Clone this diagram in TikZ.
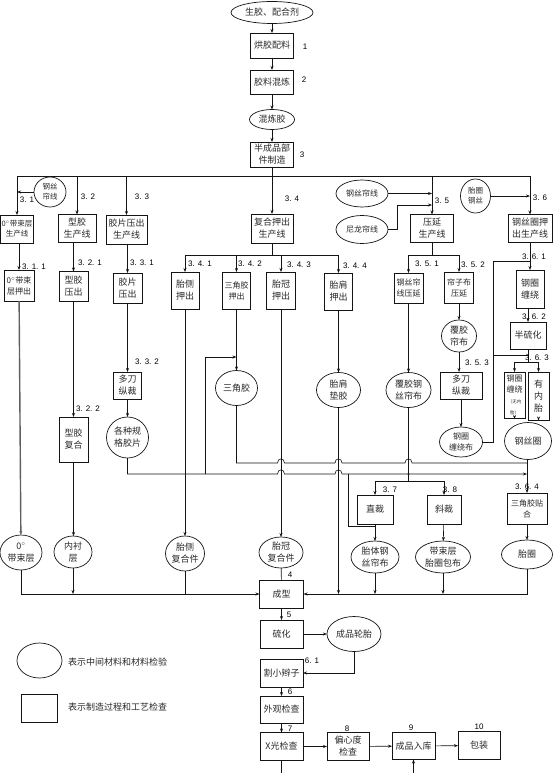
\documentclass[tikz,border=0pt]{standalone}
\usepackage{fontspec}
\setsansfont{Liberation Sans}
\newfontfamily\cjk{Noto Sans CJK SC}
\usetikzlibrary{arrows.meta,shapes.geometric,positioning}
\definecolor{lineclr}{RGB}{20,20,20}
\definecolor{txtclr}{RGB}{40,40,40}
\definecolor{thickclr}{RGB}{95,95,95}

\begin{document}
\begin{tikzpicture}[x=1pt,y=-1pt,
    every node/.style={inner sep=0pt, outer sep=0pt, text=txtclr},
    proc/.style 2 args={draw=lineclr, line width=0.7pt, minimum width=#1pt, minimum height=#2pt, align=center, font=\cjk\fontsize{9}{12}\selectfont},
    mat/.style 2 args={ellipse, draw=lineclr, line width=0.7pt, minimum width=#1pt, minimum height=#2pt, align=center, font=\cjk\fontsize{9}{12}\selectfont},
    smalltext/.style={font=\cjk\fontsize{8}{11}\selectfont},
    tinytext/.style={font=\cjk\fontsize{7.5}{10}\selectfont},
    num/.style={font=\sffamily\fontsize{8}{9}\selectfont, text=black},
    link/.style={draw=lineclr, line width=0.6pt},
    arr/.style={link, -{Stealth[length=4pt,width=3pt]}}]
    \useasboundingbox (0,0) rectangle (552,773);

    % Main column: raw material to semi-finished parts
    \node[mat={82}{22}] (raw) at (272,12.5) {生胶、配合剂};
    \node[proc={43}{25}] (s1) at (272,45.5) {烘胶配料};
    \node[proc={43}{24}] (s2) at (272,82) {胶料混炼};
    \node[mat={45}{20}] (mix) at (272,119.5) {混炼胶};
    \node[proc={43}{25}] (s3) at (272,154.5) {半成品部\\件制造};
    \node[num] (t1) at (305,47) {1};
    \node[num] (t2) at (304,80) {2};
    \node[num] (t3) at (302,155) {3};
    \draw[arr] (raw) -- (s1);
    \draw[arr] (s1) -- (s2);
    \draw[arr] (s2) -- (mix);
    \draw[arr] (mix) -- (s3);

    % Production lines
    \node[proc={33}{28}, tinytext] (l31) at (17,229) {0$^\circ$带束层\\生产线};
    \node[proc={38}{28}] (l32) at (77,228.5) {型胶\\生产线};
    \node[proc={41}{29}] (l33) at (126.5,229.5) {胶片压出\\生产线};
    \node[proc={42}{29}] (l34) at (272,228.5) {复合押出\\生产线};
    \node[proc={43}{28}] (l35) at (432,228.5) {压延\\生产线};
    \node[proc={44}{28}] (l36) at (530,228.5) {钢丝圈押\\出生产线};
    \coordinate (busW) at (17,176);
    \coordinate (busE) at (530,176);
    \draw[link] (busW) -- (busE);
    \foreach \n in {l31,l32,l33,l35,l36}
      \draw[arr] (\n.north |- busW) -- (\n.north);
    \draw[arr] (s3) -- (l34);
    \node[num] (t31) at (27,200) {3. 1};
    \node[num] (t32) at (88,197) {3. 2};
    \node[num] (t33) at (142,197) {3. 3};
    \node[num] (t34) at (292,199) {3. 4};
    \node[num] (t35) at (442,201) {3. 5};
    \node[num] (t36) at (540,198) {3. 6};

    % Incoming wire and cord
    \node[mat={32}{30}, tinytext] (c31) at (50,192) {钢丝\\帘线};
    \node[mat={52}{27}, smalltext] (e35a) at (362,193.5) {钢丝帘线};
    \node[mat={52}{28}, smalltext] (e35b) at (362,229.5) {尼龙帘线};
    \node[mat={30}{34}, tinytext] (c36) at (475.5,196) {胎圈\\钢丝};
    \draw[arr] (c31.west) -- (c31.west -| l31.north);
    \draw[arr] (e35a.east) -- (e35a.east -| l35.north);
    \coordinate (nyl) at (397,205);
    \draw[arr] (e35b.east) -| (nyl) -- (nyl -| l35.north);
    \draw[arr] (c36.east) -- (c36.east -| l36.north);

    % Second row
    \node[proc={30}{31}, smalltext] (b311) at (19,285.5) {0$^\circ$带束\\层押出};
    \node[proc={29}{30}] (b321) at (73.5,286.5) {型胶\\压出};
    \node[proc={29}{30}] (b331) at (127.5,288) {胶片\\压出};
    \node[proc={28}{37}] (b341) at (185,290.5) {胎侧\\押出};
    \node[proc={28}{37}, smalltext] (b342) at (236.5,290.5) {三角胶\\押出};
    \node[proc={29}{37}] (b343) at (281,290.5) {胎冠\\押出};
    \node[proc={28}{37}] (b344) at (338.5,291.5) {胎肩\\押出};
    \node[proc={29}{30}, smalltext] (b351) at (408.5,288) {钢丝帘\\线压延};
    \node[proc={29}{31}, smalltext] (b352) at (459,287.5) {帘子布\\压延};
    \node[proc={28}{38}] (b361) at (530,289) {钢圈\\缠绕};
    \draw[arr] (b311.north |- l31.south) -- (b311.north);
    \draw[arr] (b321.north |- l32.south) -- (b321.north);
    \draw[arr] (b331.north |- l33.south) -- (b331.north);
    \coordinate (sb34) at (272,255);
    \draw[link] (l34.south) -- (sb34);
    \draw[link] (b341.north |- sb34) -- (b344.north |- sb34);
    \foreach \n in {b341,b342,b343,b344}
      \draw[arr] (\n.north |- sb34) -- (\n.north);
    \coordinate (sb35) at (432,255);
    \draw[link] (l35.south) -- (sb35);
    \draw[link] (b351.north |- sb35) -- (b352.north |- sb35);
    \foreach \n in {b351,b352}
      \draw[arr] (\n.north |- sb35) -- (\n.north);
    \draw[arr] (b361.north |- l36.south) -- (b361.north);
    \node[num] (t311) at (34,267) {3. 1. 1};
    \node[num] (t321) at (90,263) {3. 2. 1};
    \node[num] (t331) at (142,263) {3. 3. 1};
    \node[num] (t341) at (200,264) {3. 4. 1};
    \node[num] (t342) at (250,264) {3. 4. 2};
    \node[num] (t343) at (299,265) {3. 4. 3};
    \node[num] (t344) at (355,266) {3. 4. 4};
    \node[num] (t351) at (427,264) {3. 5. 1};
    \node[num] (t352) at (473,265) {3. 5. 2};
    \node[num] (t361) at (534,257) {3. 6. 1};

    % Middle part
    \node[proc={29}{45}] (b322) at (73.5,439.5) {型胶\\复合};
    \node[proc={28}{27}] (b332) at (127.5,385.5) {多刀\\纵裁};
    \node[mat={42}{41}] (e332) at (127.5,437.5) {各种规\\格胶片};
    \node[mat={42}{35}] (e342) at (236.5,388) {三角胶};
    \node[mat={44}{35}] (e344) at (338.5,390) {胎肩\\垫胶};
    \node[mat={45}{35}] (e351) at (408.5,390) {覆胶钢\\丝帘布};
    \node[mat={35}{32}] (e352) at (459,336) {覆胶\\帘布};
    \node[proc={42}{27}] (b353) at (461,385.5) {多刀\\纵裁};
    \node[mat={43}{30}, smalltext] (e353) at (461,442) {钢圈\\缠绕布};
    \node[proc={36}{27}] (b362) at (528,335.5) {半硫化};
    \node[proc={21}{46}, smalltext] (b363a) at (514.5,395) {钢圈\\缠绕\\{\fontsize{4.5}{5.5}\selectfont（无内}\\{\fontsize{4.5}{5.5}\selectfont 胎）}};
    \node[proc={21}{48}] (b363b) at (538.5,396) {有\\内\\胎};
    \node[mat={47}{37}] (e363) at (528,441) {钢丝圈};
    \draw[arr] (b322.north |- b321.south) -- (b322.north);
    \draw[arr] (b332.north |- b331.south) -- (b332.north);
    \draw[arr] (b332) -- (e332);
    \draw[arr] (b342) -- (e342);
    \draw[arr] (b344) -- (e344);
    \draw[arr] (b351) -- (e351);
    \draw[arr] (b352) -- (e352);
    \draw[arr] (e352.south) -- (e352.south |- b353.north);
    \draw[arr] (b353) -- (e353);
    \draw[arr] (b362.north |- b361.south) -- (b362.north);
    \coordinate (sp363) at (528,362);
    \draw[link] (b362.south) -- (sp363);
    \draw[link] (b363a.north |- sp363) -- (b363b.north |- sp363);
    \foreach \n in {b363a,b363b}
      \draw[arr] (\n.north |- sp363) -- (\n.north);
    \draw[arr, shorten >=3.4pt] (b363a.south) -- (b363a.south |- e363.north);
    \draw[arr, shorten >=2pt] (b363b.south) -- (b363b.south |- e363.north);
    \coordinate (wr1) at (493,261);
    \coordinate (wr2) at (493,355);
    \draw[link] (e353.east) -| (wr1) -- (wr1 -| b361.north);
    \draw[link] (wr2) -- (wr2 -| b362.south);
    \node[num] (t332) at (147,362) {3. 3. 2};
    \node[num] (t322) at (88,409) {3. 2. 2};
    \node[num] (t353) at (477,363) {3. 5. 3};
    \node[num] (t362) at (534,317) {3. 6. 2};
    \node[num] (t363) at (537,358) {3. 6. 3};

    % Cutting and bead apex
    \node[proc={36}{29}] (b37) at (375,509.5) {直裁};
    \node[proc={34}{29}] (b38) at (444,509.5) {斜裁};
    \node[proc={40}{31}, smalltext] (b364) at (527,508.5) {三角胶贴\\合};
    \coordinate (sp37) at (408.5,481);
    \draw[link] (e351.south) -- (sp37);
    \draw[link] (b37.north |- sp37) -- (b38.north |- sp37);
    \foreach \n in {b37,b38}
      \draw[arr] (\n.north |- sp37) -- (\n.north);
    \draw[arr] (b364.north |- e363.south) -- (b364.north);
    \node[num] (t37) at (390,490) {3. 7};
    \node[num] (t38) at (450,490) {3. 8};
    \node[num] (t364) at (527,487) {3. 6. 4};

    % Crossing lines with hops
    \coordinate (jA) at (527,463);
    \coordinate (jB) at (527,474);
    \draw[link] (e342.south) |- (277.5,463) .. controls (277.5,457.5) and (284.5,457.5) .. (284.5,463)
      -- (335,463) .. controls (335,457.5) and (342,457.5) .. (342,463)
      -- (405,463) .. controls (405,457.5) and (412,457.5) .. (412,463) -- (jA);
    \draw[arr] (e332.south) |- (277.5,474) .. controls (277.5,468.5) and (284.5,468.5) .. (284.5,474)
      -- (335,474) .. controls (335,468.5) and (342,468.5) .. (342,474) -- (jB);
    \fill[lineclr] (408.5,474) circle (1.2pt);
    \coordinate (br1) at (205,474);
    \coordinate (br1b) at (205,357);
    \draw[arr] (br1) -- (br1b) -- (br1b -| b342.south);
    \coordinate (br2) at (348,474);
    \coordinate (br2b) at (348,526);
    \draw[link] (br2) -- (br2b) -- (br2b -| b37.south);

    % Components for building
    \node[mat={42}{35}] (e31) at (21,552.5) {0$^\circ$\\带束层};
    \node[mat={38}{32}] (e32) at (73,552) {内衬\\层};
    \node[mat={39}{35}] (e341) at (185,553.5) {胎侧\\复合件};
    \node[mat={44}{31}] (e343) at (281,552.5) {胎冠\\复合件};
    \node[mat={48}{32}] (e37) at (375,557) {胎体钢\\丝帘布};
    \node[mat={55}{32}] (e38) at (443,557) {带束层\\胎圈包布};
    \node[mat={51}{29}] (e364) at (527,554.5) {胎圈};
    \node[proc={44}{28}] (bx4) at (281.5,594) {成型};
    \draw[arr, line width=1.4pt, draw=thickclr] (b311) -- (e31);
    \draw[arr] (b322.south) -- (b322.south |- e32.north);
    \draw[arr] (b341) -- (e341);
    \draw[arr] (b343) -- (e343);
    \draw[arr] (b37) -- (e37);
    \draw[arr] (b38) -- (e38);
    \draw[arr] (b364) -- (e364);
    \draw[link] (e343) -- (bx4);
    \draw[arr] (e31.south) |- (bx4.west);
    \draw[arr] (e32.south) -- (e32.south |- bx4.west);
    \draw[link] (e341.south) -- (e341.south |- bx4.west);
    \draw[arr] (e364.south) |- (bx4.east);
    \draw[arr] (e37.south) -- (e37.south |- bx4.east);
    \draw[arr] (e38.south) -- (e38.south |- bx4.east);
    \draw[arr] (e344.south) -- (e344.south |- bx4.east);
    \node[num] (t4) at (290,575) {4};

    % Curing and inspection
    \node[proc={43}{28}] (bx5) at (281.5,634) {硫化};
    \node[mat={54}{35}] (e5) at (354,634) {成品轮胎};
    \node[proc={43}{28}] (bx61) at (281.5,673) {割小辫子};
    \node[proc={43}{27}] (bx6) at (281.5,709.5) {外观检查};
    \node[proc={43}{28}] (bx7) at (281.5,746.5) {X光检查};
    \node[proc={42}{28}] (bx8) at (348,746.5) {偏心度\\检查};
    \node[proc={43}{27}] (bx9) at (413.5,746) {成品入库};
    \node[proc={42}{28}] (bx10) at (479,745.5) {包装};
    \draw[arr] (bx4) -- (bx5);
    \draw[arr] (bx5) -- (e5);
    \draw[arr] (e5.south) |- (bx61.east);
    \draw[arr] (bx61) -- (bx6);
    \draw[arr] (bx6) -- (bx7);
    \draw[arr] (bx7) -- (bx8);
    \draw[arr] (bx8) -- (bx9);
    \draw[arr] (bx9) -- (bx10);
    \coordinate (outX) at (281.5,773);
    \coordinate (inX) at (413.5,773);
    \draw[link] (bx7.south) -- (outX);
    \draw[arr] (inX) -- (bx9.south);
    \node[num] (t5) at (289,615) {5};
    \node[num] (t61) at (312,661) {6. 1};
    \node[num] (t6) at (290,692) {6};
    \node[num] (t7) at (290,729) {7};
    \node[num] (t8) at (347,729) {8};
    \node[num] (t9) at (411,728) {9};
    \node[num] (t10) at (479,727) {10};

    % Legend
    \node[mat={45}{35}] (lgE) at (39.5,660.5) {};
    \node[proc={36}{28}] (lgB) at (39,708) {};
    \node[anchor=west, font=\cjk\fontsize{9}{12}\selectfont] (lgEt) at (68,662) {表示中间材料和材料检验};
    \node[anchor=west, font=\cjk\fontsize{9}{12}\selectfont] (lgBt) at (68,707) {表示制造过程和工艺检查};
  \end{tikzpicture}
\end{document}
